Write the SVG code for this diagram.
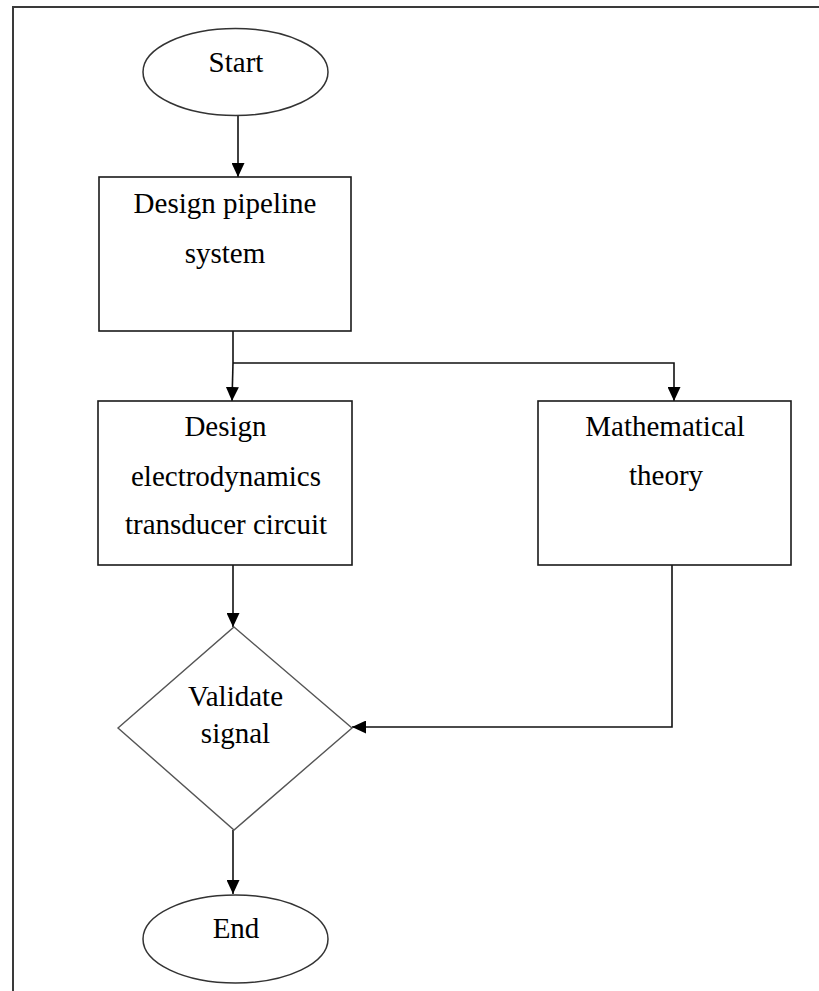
<svg xmlns="http://www.w3.org/2000/svg" width="819" height="991" viewBox="0 0 819 991">
  <style>
    .frame { fill: none; stroke: #3a3a3a; stroke-width: 2; }
    .box { fill: #ffffff; stroke: #1a1a1a; stroke-width: 1.6; }
    .term { fill: #ffffff; stroke: #333333; stroke-width: 1.5; }
    .dec { fill: #ffffff; stroke: #555555; stroke-width: 1.4; }
    .edge { fill: none; stroke: #111111; stroke-width: 1.6; }
    text { font-family: "Liberation Serif", "Times New Roman", serif; font-size: 29px; fill: #000000; text-anchor: middle; }
  </style>
  <defs>
    <marker id="arrow" viewBox="0 0 14 13" refX="14" refY="6.5" markerWidth="14" markerHeight="13" orient="auto" markerUnits="userSpaceOnUse">
      <path d="M0,0 L14,6.5 L0,13 z" fill="#000000"/>
    </marker>
  </defs>

  <rect width="819" height="991" fill="#ffffff"/>
  <!-- page frame (left and top edges only) -->
  <path class="frame" d="M13,991 L13,7 L819,7"/>

  <!-- connectors -->
  <g id="connectors">
    <line class="edge" x1="238" y1="116" x2="238" y2="177" marker-end="url(#arrow)"/>
    <line class="edge" x1="233" y1="331" x2="233" y2="363"/>
    <line class="edge" x1="233" y1="363" x2="232" y2="401" marker-end="url(#arrow)"/>
    <polyline class="edge" points="233,363 674,363 674,401" marker-end="url(#arrow)"/>
    <line class="edge" x1="233" y1="565" x2="233" y2="627" marker-end="url(#arrow)"/>
    <polyline class="edge" points="672,565 672,727 352,727" marker-end="url(#arrow)"/>
    <line class="edge" x1="233" y1="830" x2="233" y2="894" marker-end="url(#arrow)"/>
  </g>

  <g id="start">
    <ellipse class="term" cx="235.5" cy="72" rx="92.5" ry="43.5"/>
    <text x="236" y="72">Start</text>
  </g>

  <g id="design-pipeline">
    <rect class="box" x="99" y="177" width="252" height="154"/>
    <text x="225" y="213">Design pipeline</text>
    <text x="225" y="263">system</text>
  </g>

  <g id="design-transducer">
    <rect class="box" x="98" y="401" width="254" height="164"/>
    <text x="225.5" y="436">Design</text>
    <text x="226" y="486">electrodynamics</text>
    <text x="226" y="534">transducer circuit</text>
  </g>

  <g id="math-theory">
    <rect class="box" x="538" y="401" width="253" height="164"/>
    <text x="665" y="436">Mathematical</text>
    <text x="666" y="485">theory</text>
  </g>

  <g id="validate">
    <polygon class="dec" points="234,627 352,728 234,830 118,728"/>
    <text x="235.5" y="706">Validate</text>
    <text x="235.5" y="743">signal</text>
  </g>

  <g id="end">
    <ellipse class="term" cx="235.5" cy="939" rx="92.5" ry="44"/>
    <text x="236" y="938">End</text>
  </g>
</svg>
